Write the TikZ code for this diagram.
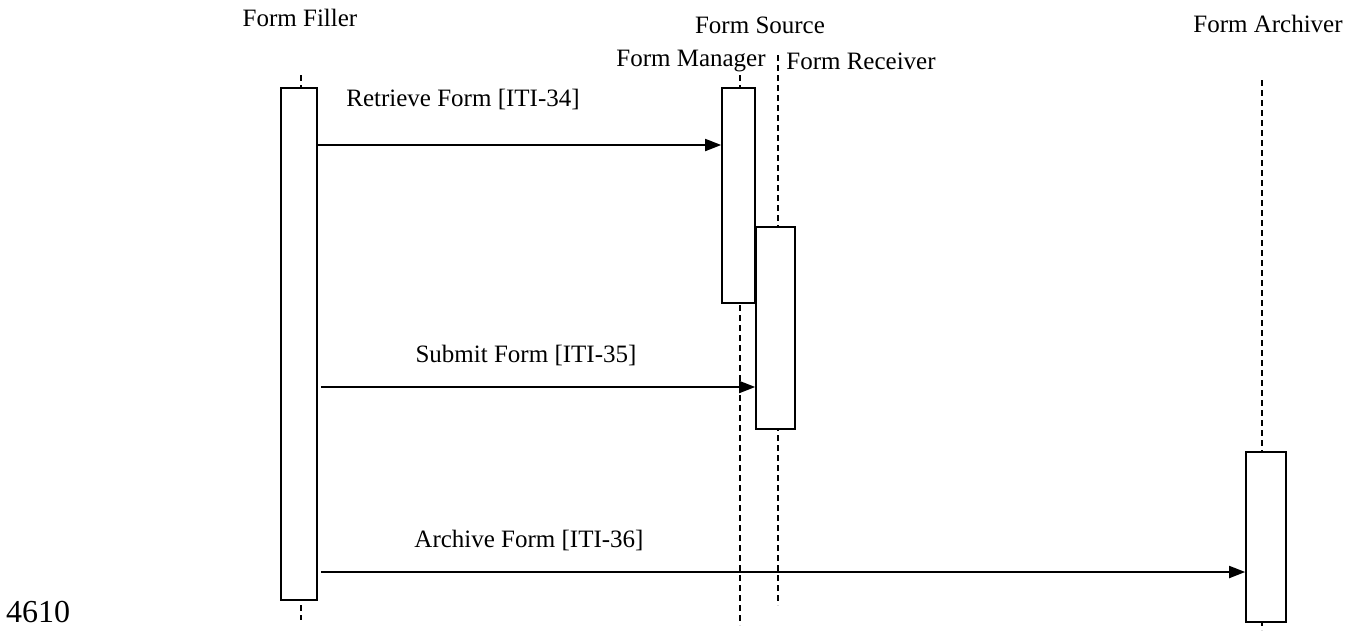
\documentclass[tikz,border=0pt]{standalone}
\usepackage{fontspec}
\setmainfont{Liberation Serif}
\usetikzlibrary{arrows.meta,positioning}

\begin{document}
\begin{tikzpicture}[
  x=0.5pt, y=-0.5pt,
  >={Triangle[length=8pt,width=6pt]},
  actbox/.style={draw, fill=white, line width=0.8pt, inner sep=0pt},
  lifeline/.style={dashed, dash pattern=on 3pt off 2pt, line width=0.8pt},
  msg/.style={->, line width=0.9pt},
  role/.style={font=\fontsize{12.5}{14}\selectfont, inner sep=0pt},
  msglabel/.style={font=\fontsize{12.5}{14}\selectfont, inner sep=0pt},
]
\useasboundingbox (0,0) rectangle (1355,639);

% lifelines
\coordinate (ffTop) at (301,75);   \coordinate (ffBot) at (301,620);
\coordinate (fmTop) at (740,75);   \coordinate (fmBot) at (740,625);
\coordinate (frTop) at (778,55);   \coordinate (frBot) at (778,605);
\coordinate (faTop) at (1262,80);  \coordinate (faBot) at (1262,630);
\draw[lifeline] (ffTop) -- (ffBot);
\draw[lifeline] (fmTop) -- (fmBot);
\draw[lifeline] (frTop) -- (frBot);
\draw[lifeline] (faTop) -- (faBot);

% activation boxes
\node[actbox, minimum width=18pt, minimum height=256pt] (ff) at (299,344) {};
\node[actbox, minimum width=16.5pt, minimum height=107.5pt] (fm) at (738.5,195.5) {};
\node[actbox, minimum width=19.5pt, minimum height=101pt] (fr) at (775.5,328) {};
\node[actbox, minimum width=20pt, minimum height=85pt] (fa) at (1266,537) {};

% actor names
\node[role] (ffName) at (300,18) {Form Filler};
\node[role] (fsName) at (760,25) {Form Source};
\node[role] (fmName) at (691,61) {Form Manager};
\node[role] (frName) at (861,61) {Form Receiver};
\node[role] (faName) at (1268,24) {Form Archiver};

% messages
\draw[msg] (ff.east |- 0,145) -- (fm.west |- 0,145);
\node[msglabel] (m1) at (463,99) {Retrieve Form [ITI-34]};
\draw[msg] ([xshift=1.5pt]ff.east |- 0,387) -- (fr.west |- 0,387);
\node[msglabel] (m2) at (526,355) {Submit Form [ITI-35]};
\draw[msg] ([xshift=1.5pt]ff.east |- 0,572) -- (fa.west |- 0,572);
\node[msglabel] (m3) at (529,540) {Archive Form [ITI-36]};

% page number
\node[font=\fontsize{16}{18}\selectfont, inner sep=0pt] (pageNo) at (38,612) {4610};
\end{tikzpicture}
\end{document}
